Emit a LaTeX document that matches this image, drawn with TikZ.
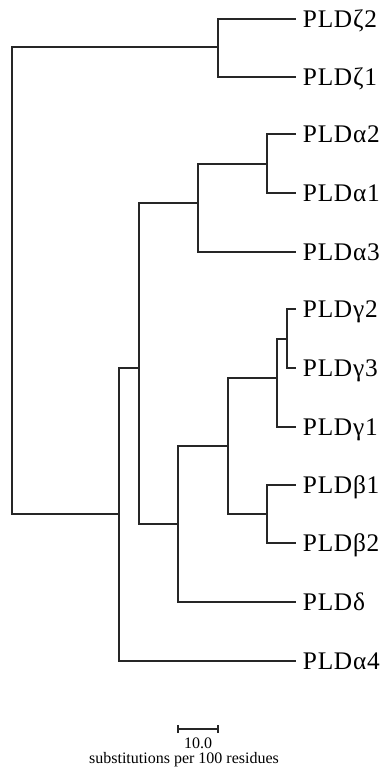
\documentclass[tikz,border=0pt]{standalone}
\usepackage{fontspec}
\setmainfont{Liberation Serif}
\begin{document}
\begin{tikzpicture}[x=0.75pt,y=-0.75pt,
  branch/.style={line width=0.8pt,draw=black!85},
  leaflabel/.style={anchor=base west,inner sep=0pt,xshift=5pt,yshift=-6.3pt,
    font=\fontsize{19}{21}\selectfont\addfontfeature{LetterSpace=3}},
  small/.style={font=\fontsize{12}{13}\selectfont,inner sep=0pt}]
\useasboundingbox (0,0) rectangle (391,769);
% leaves
\coordinate (z2) at (296,19);
\coordinate (z1) at (296,77);
\coordinate (a2) at (296,134);
\coordinate (a1) at (296,193);
\coordinate (a3) at (296,252);
\coordinate (g2) at (296,309);
\coordinate (g3) at (296,368);
\coordinate (g1) at (296,427);
\coordinate (b1) at (296,485);
\coordinate (b2) at (296,543);
\coordinate (d) at (296,602);
\coordinate (a4) at (296,661);
% internal nodes
\coordinate (root) at (12,280);
\coordinate (Z) at (218,47);
\coordinate (A12) at (267,164);
\coordinate (A) at (198,203);
\coordinate (G23) at (287,339);
\coordinate (G) at (277,378);
\coordinate (B) at (267,514);
\coordinate (GB) at (228,446);
\coordinate (GBD) at (178,524);
\coordinate (N2) at (139,368);
\coordinate (N1) at (119,514);
% branches
\draw[branch] (root) |- (Z);
\draw[branch] (root) |- (N1);
\draw[branch] (Z) |- (z2);
\draw[branch] (Z) |- (z1);
\draw[branch] (N1) |- (N2);
\draw[branch] (N1) |- (a4);
\draw[branch] (N2) |- (A);
\draw[branch] (N2) |- (GBD);
\draw[branch] (A) |- (A12);
\draw[branch] (A) |- (a3);
\draw[branch] (A12) |- (a2);
\draw[branch] (A12) |- (a1);
\draw[branch] (GBD) |- (GB);
\draw[branch] (GBD) |- (d);
\draw[branch] (GB) |- (G);
\draw[branch] (GB) |- (B);
\draw[branch] (G) |- (G23);
\draw[branch] (G) |- (g1);
\draw[branch] (G23) |- (g2);
\draw[branch] (G23) |- (g3);
\draw[branch] (B) |- (b1);
\draw[branch] (B) |- (b2);
% labels
\node[leaflabel] (lz2) at (z2) {PLDζ2};
\node[leaflabel] (lz1) at (z1) {PLDζ1};
\node[leaflabel] (la2) at (a2) {PLDα2};
\node[leaflabel] (la1) at (a1) {PLDα1};
\node[leaflabel] (la3) at (a3) {PLDα3};
\node[leaflabel] (lg2) at (g2) {PLDγ2};
\node[leaflabel] (lg3) at (g3) {PLDγ3};
\node[leaflabel] (lg1) at (g1) {PLDγ1};
\node[leaflabel] (lb1) at (b1) {PLDβ1};
\node[leaflabel] (lb2) at (b2) {PLDβ2};
\node[leaflabel] (ld) at (d) {PLDδ};
\node[leaflabel] (la4) at (a4) {PLDα4};
% scale bar
\coordinate (sL) at (178,729);
\coordinate (sR) at (218,729);
\draw[branch] (sL) -- (sR);
\draw[branch] ([yshift=-3pt]sL) -- ([yshift=3pt]sL);
\draw[branch] ([yshift=-3pt]sR) -- ([yshift=3pt]sR);
\node[small] (sv) at (198,743) {10.0};
\node[small] (st) at (184,760) {substitutions per 100 residues};
\end{tikzpicture}
\end{document}
